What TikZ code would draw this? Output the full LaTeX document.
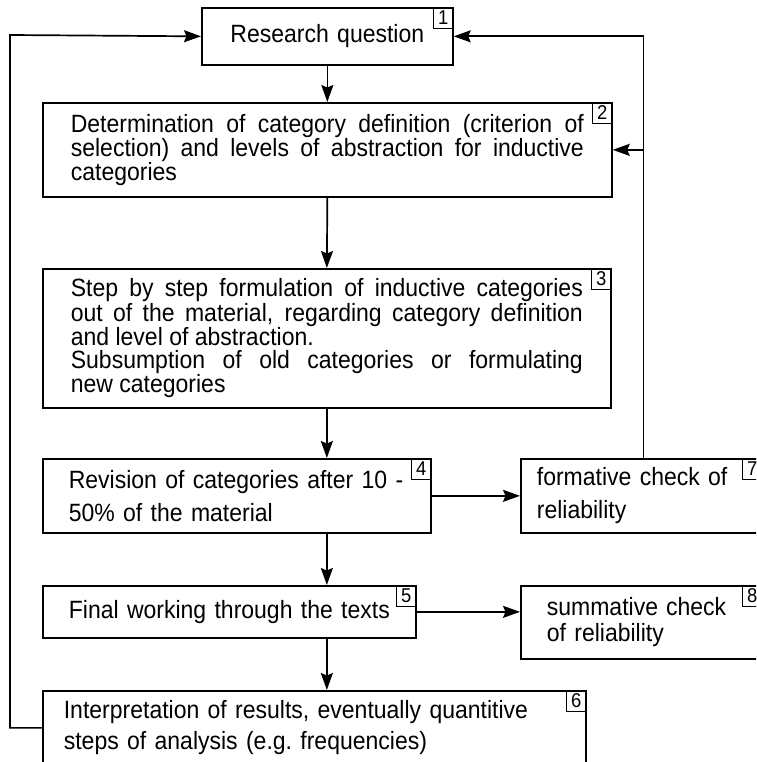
\documentclass[tikz,border=0pt]{standalone}
\usepackage{fontspec}
\setmainfont[FakeStretch=0.92]{Liberation Sans}
\usetikzlibrary{arrows.meta}

\begin{document}
\begin{tikzpicture}[x=1pt,y=-1pt,
  box/.style={draw, line width=1.7pt, rectangle, anchor=north west,
    inner ysep=0pt, font=\fontsize{25}{23}\selectfont},
  tag/.style={draw, line width=1pt, rectangle, anchor=north east,
    minimum width=20pt, minimum height=21pt, inner sep=0pt,
    font=\fontsize{20}{20}\selectfont},
  arr/.style={line width=1.7pt, -{Stealth[length=17pt,width=12pt,inset=2.5pt]}}]

\useasboundingbox (0,0) rectangle (756,762);
\clip (0,0) rectangle (756,762);

% main column of steps
\node[box, inner xsep=0pt, text width=251pt, minimum height=57pt, align=center]
  (b1) at (201,7) {Research question};
\node[box, inner xsep=28pt, text width=513pt, minimum height=94pt, align=justify]
  (b2) at (42,102) {Determination of category definition (criterion of\linebreak
  selection) and levels of abstraction for inductive\linebreak categories};
\node[box, inner xsep=28pt, text width=512pt, minimum height=139pt, align=justify]
  (b3) at (42,268) {Step by step formulation of inductive categories\linebreak
  out of the material, regarding category definition\linebreak
  and level of abstraction.\newline
  Subsumption of old categories or formulating\linebreak new categories};
\node[box, inner xsep=26pt, text width=336pt, minimum height=74pt, align=left,
  font=\fontsize{25}{33}\selectfont]
  (b4) at (42,458) {Revision of categories after 10 -\\50\% of the material};
\node[box, inner xsep=26pt, text width=321pt, minimum height=52pt, align=left]
  (b5) at (42,585) {Final working through the texts};
\node[box, inner xsep=21pt, text width=501pt, minimum height=74pt, align=left,
  font=\fontsize{25}{31}\selectfont]
  (b6) at (42,690) {Interpretation of results, eventually quantitive\\
  steps of analysis (e.g.\ frequencies)};

% reliability checks
\node[box, inner xsep=16pt, text width=209pt, minimum height=74pt, align=left,
  font=\fontsize{25}{33}\selectfont]
  (b7) at (520,458) {formative check of\\reliability};
\node[box, inner xsep=26pt, text width=189pt, minimum height=73pt, align=left,
  font=\fontsize{25}{26}\selectfont]
  (b8) at (520,585) {summative\hspace{8pt}check\\of reliability};

% step numbers
\foreach \n in {1,...,8}
  \node[tag] (n\n) at (b\n.north east) {\n};

% flow downwards
\draw[arr] (b1.south) -- (b2.north);
\draw[arr] (b2.south) -- (b3.north);
\draw[arr] (b3.south) -- (b3.south |- b4.north);
\draw[arr] (b3.south |- b4.south) -- (b3.south |- b5.north);
\draw[arr] (b3.south |- b5.south) -- (b3.south |- b6.north);

% checks
\draw[arr] (b4.east) -- (b7.west);
\draw[arr] (b5.east) -- (b5.east -| b8.west);

% feedback from the formative check
\coordinate (fb) at ([xshift=2pt]b7.north);
\draw[arr] (fb) |- (b1.east);
\draw[arr] (fb |- b2.east) -- (b2.east);

% loop back to the research question
\coordinate (loopL) at (10,35);
\draw[arr] (b6.west) -| (loopL) -- (b1.west);
\end{tikzpicture}
\end{document}
